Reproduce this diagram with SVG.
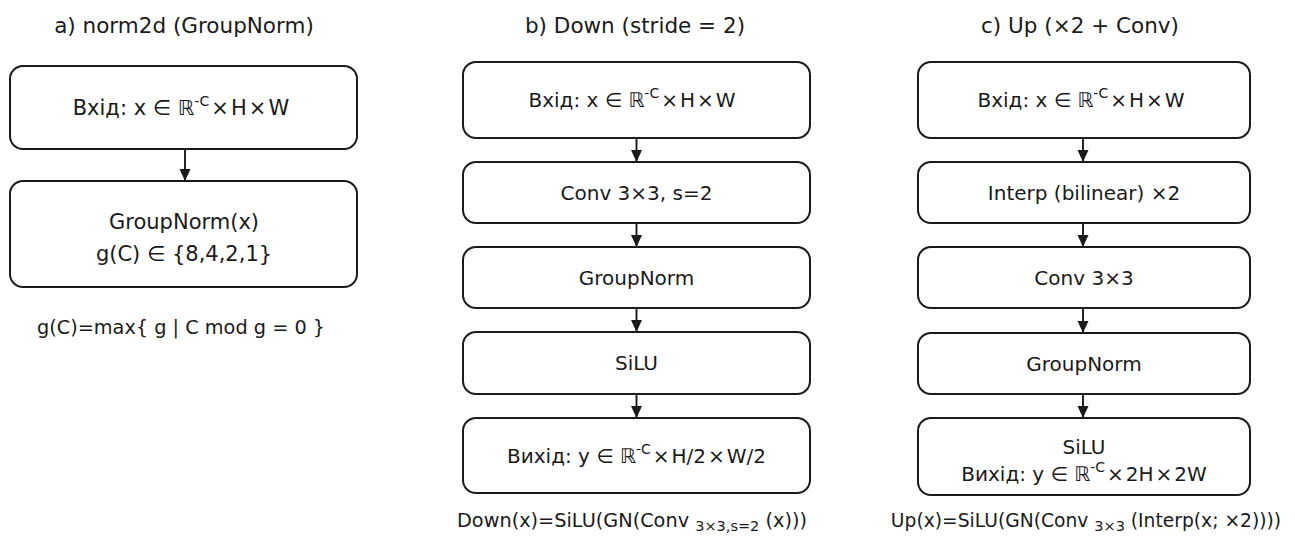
<svg xmlns="http://www.w3.org/2000/svg" width="1295" height="544" viewBox="0 0 1295 544">
<style>
text{font-family:"DejaVu Sans","Noto Sans",sans-serif;fill:#1a1a1a;text-anchor:middle}
.title{font-size:21.5px}
.box{fill:#fff;stroke:#1a1a1a;stroke-width:2}
.t{font-size:20px}
.ta{font-size:21px}
.f{font-size:19.3px}
.fc{font-size:18.7px}
.sup{font-size:14px}
.sub{font-size:14.5px}
.conn line{stroke:#1a1a1a;stroke-width:1.9;marker-end:url(#ah)}
</style>
<defs>
<marker id="ah" viewBox="0 0 12 12" refX="12" refY="6" markerWidth="12" markerHeight="12" markerUnits="userSpaceOnUse" orient="auto">
<path d="M0,0.5 L12,6 L0,11.5 z" fill="#1a1a1a"/>
</marker>
</defs>
<rect width="1295" height="544" fill="#fff"/>

<g id="titles">
<text class="title" x="184" y="33">a) norm2d (GroupNorm)</text>
<text class="title" x="635" y="33">b) Down (stride = 2)</text>
<text class="title" x="1080" y="33">c) Up (×2 + Conv)</text>
</g>

<g class="conn" id="connectors">
<line x1="185" y1="149" x2="185" y2="181"/>
<line x1="636.5" y1="138" x2="636.5" y2="162"/>
<line x1="636.5" y1="223" x2="636.5" y2="247"/>
<line x1="636.5" y1="308" x2="636.5" y2="332"/>
<line x1="636.5" y1="394" x2="636.5" y2="418"/>
<line x1="1083" y1="138" x2="1083" y2="162"/>
<line x1="1083" y1="223" x2="1083" y2="247"/>
<line x1="1083" y1="308" x2="1083" y2="333"/>
<line x1="1083" y1="394" x2="1083" y2="418"/>
</g>

<g id="a-input">
<rect class="box" x="10" y="66" width="347" height="83" rx="13"/>
<text class="ta" x="181" y="115">Вхід: x ∈ ℝ<tspan class="sup" dy="-9">-C</tspan><tspan dy="9">&#8202;×&#8202;H&#8202;×&#8202;W</tspan></text>
</g>
<g id="a-groupnorm">
<rect class="box" x="10" y="181" width="347" height="106" rx="13"/>
<text class="ta" x="184" y="228.5">GroupNorm(x)</text>
<text class="ta" x="184" y="260.5">g(C) ∈ {8,4,2,1}</text>
</g>
<g id="a-formula">
<text class="f" x="181" y="334">g(C)=max{ g | C mod g = 0 }</text>
</g>

<g id="b-input">
<rect class="box" x="463" y="62" width="347" height="76" rx="13"/>
<text class="t" x="632" y="107">Вхід: x ∈ ℝ<tspan class="sup" dy="-9">-C</tspan><tspan dy="9">&#8202;×&#8202;H&#8202;×&#8202;W</tspan></text>
</g>
<g id="b-conv">
<rect class="box" x="463" y="162" width="347" height="61" rx="13"/>
<text class="t" x="636.5" y="199.5">Conv 3×3, s=2</text>
</g>
<g id="b-gn">
<rect class="box" x="463" y="247" width="347" height="61" rx="13"/>
<text class="t" x="636.5" y="284.5">GroupNorm</text>
</g>
<g id="b-silu">
<rect class="box" x="463" y="332" width="347" height="62" rx="13"/>
<text class="t" x="636.5" y="370">SiLU</text>
</g>
<g id="b-output">
<rect class="box" x="463" y="418" width="347" height="75" rx="13"/>
<text class="t" x="636.5" y="462.5">Вихід: y ∈ ℝ<tspan class="sup" dy="-9">-C</tspan><tspan dy="9">&#8202;×&#8202;H/2&#8202;×&#8202;W/2</tspan></text>
</g>
<g id="b-formula">
<text class="f" x="632" y="527">Down(x)=SiLU(GN(Conv <tspan class="sub" dy="4">3×3,s=2</tspan><tspan dy="-4"> (x)))</tspan></text>
</g>

<g id="c-input">
<rect class="box" x="918" y="62" width="332" height="76" rx="13"/>
<text class="t" x="1081" y="107">Вхід: x ∈ ℝ<tspan class="sup" dy="-9">-C</tspan><tspan dy="9">&#8202;×&#8202;H&#8202;×&#8202;W</tspan></text>
</g>
<g id="c-interp">
<rect class="box" x="918" y="162" width="332" height="61" rx="13"/>
<text class="t" x="1084" y="199.5">Interp (bilinear) ×2</text>
</g>
<g id="c-conv">
<rect class="box" x="918" y="247" width="332" height="61" rx="13"/>
<text class="t" x="1084" y="284.5">Conv 3×3</text>
</g>
<g id="c-gn">
<rect class="box" x="918" y="333" width="332" height="61" rx="13"/>
<text class="t" x="1084" y="370.5">GroupNorm</text>
</g>
<g id="c-output">
<rect class="box" x="918" y="418" width="332" height="77" rx="13"/>
<text class="t" x="1084" y="454">SiLU</text>
<text class="t" x="1084" y="481">Вихід: y ∈ ℝ<tspan class="sup" dy="-9">-C</tspan><tspan dy="9">&#8202;×&#8202;2H&#8202;×&#8202;2W</tspan></text>
</g>
<g id="c-formula">
<text class="fc" x="1086" y="527">Up(x)=SiLU(GN(Conv <tspan class="sub" dy="4">3×3</tspan><tspan dy="-4"> (Interp(x; ×2))))</tspan></text>
</g>
</svg>
